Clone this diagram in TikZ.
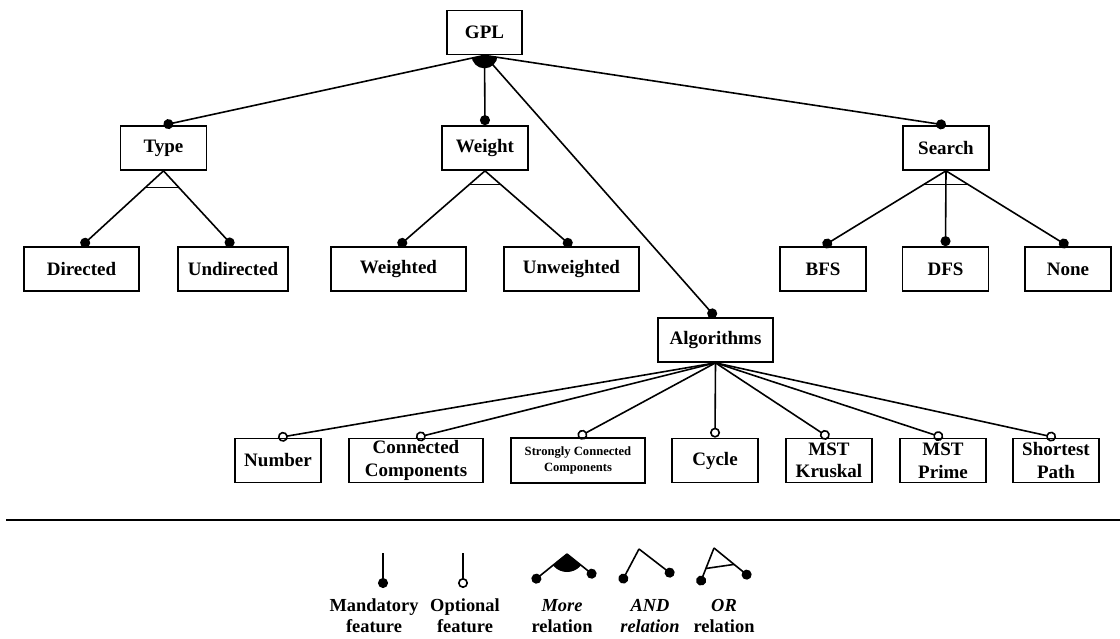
\documentclass[tikz,border=0pt]{standalone}
\usepackage{fontspec}
\setmainfont{Liberation Serif}
\usetikzlibrary{arrows.meta,calc}

\begin{document}
\begin{tikzpicture}[
            x=0.5pt, y=0.5pt,
            feat/.style={
                rectangle,
                draw=black,
                line width=0.85pt,
                minimum width=43pt,
                minimum height=22pt,
                inner sep=1pt,
                align=center,
                font=\fontsize{9.5}{11.3}\selectfont\bfseries
            },
            link/.style={line width=0.8pt},
            mand/.style={link, -{Circle[length=5pt]}},
            opt/.style={link, -{Circle[open,length=5pt]}},
            legend/.style={
                align=center,
                font=\fontsize{9.2}{10.5}\selectfont\bfseries
            }
        ]
        
        \useasboundingbox (0,0) rectangle (1120,-638);
        
        % Root
        \node[feat, minimum width=37.5pt] (gpl) at (484.5,-32.5) {GPL};
        
        % First level
        \node[feat] (type) at (163.5,-148) {Type};
        \node[feat] (weight) at (485,-148) {Weight};
        \node[feat] (search) at (946,-148) {Search};
        \node[feat, minimum width=57.5pt] (algorithms) at (715.5,-340) {Algorithms};
        
        % Second level
        \node[feat, minimum width=57.5pt] (directed) at (81.5,-269) {Directed};
        \node[feat, minimum width=55pt] (undirected) at (233,-269) {Undirected};
        \node[feat, minimum width=67.5pt] (weighted) at (398.5,-269) {Weighted};
        \node[feat, minimum width=67.5pt] (unweighted) at (571.5,-269) {Unweighted};
        \node[feat] (bfs) at (823,-269) {BFS};
        \node[feat] (dfs) at (945.5,-269) {DFS};
        \node[feat] (none) at (1068,-269) {None};
        
        % Algorithms row
        \node[feat] (number) at (278,-460.5) {Number};
        \node[feat, minimum width=67pt] (concomp) at (416,-460.5) {Connected\\Components};
        \node[feat, minimum width=67pt, minimum height=22.5pt,
              font=\fontsize{6.3}{7.6}\selectfont\bfseries] (strongcomp) at (578,-460.5) {Strongly Connected\\Components};
        \node[feat] (cycle) at (715,-460.5) {Cycle};
        \node[feat] (kruskal) at (829,-460.5) {MST\\Kruskal};
        \node[feat] (prime) at (943,-460.5) {MST\\Prime};
        \node[feat] (shortest) at (1056,-460.5) {Shortest\\Path};
        
        % Mandatory links
        \draw[mand] (gpl.south) -- (type.north);
        \draw[mand] (gpl.south) -- (weight.north);
        \draw[mand] (gpl.south) -- (search.north);
        \draw[mand] (gpl.south) -- (algorithms.north);
        \draw[mand] (type.south) -- (directed.north);
        \draw[mand] (type.south) -- (undirected.north);
        \draw[mand] (weight.south) -- (weighted.north);
        \draw[mand] (weight.south) -- (unweighted.north);
        \draw[mand] (search.south) -- (bfs.north);
        \draw[mand] (search.south) -- (dfs.north);
        \draw[mand] (search.south) -- (none.north);
        
        % More relation under GPL
        \begin{scope}
            \clip (gpl.south) -- (type.north) -- (search.north) -- cycle;
            \fill (gpl.south) circle (6.5pt);
        \end{scope}
        
        % Group bars
        \draw[link] ($(type.south)!0.22!(directed.north)$) -- ($(type.south)!0.22!(undirected.north)$);
        \draw[link] ($(weight.south)!0.18!(weighted.north)$) -- ($(weight.south)!0.18!(unweighted.north)$);
        \draw[link] ($(search.south)!0.18!(bfs.north)$) -- ($(search.south)!0.18!(none.north)$);
        
        % Optional links
        \draw[opt] (algorithms.south) -- (number.north);
        \draw[opt] (algorithms.south) -- (concomp.north);
        \draw[opt] (algorithms.south) -- (strongcomp.north);
        \draw[opt] (algorithms.south) -- (cycle.north);
        \draw[opt] (algorithms.south) -- (kruskal.north);
        \draw[opt] (algorithms.south) -- (prime.north);
        \draw[opt] (algorithms.south) -- (shortest.north);
        
        % Separator
        \draw[line width=0.9pt] (6,-520) -- (1120,-520);
        
        % Legend symbols
        \draw[mand] (383,-553) -- (383,-588);
        \draw[opt] (463,-553) -- (463,-588);
        
        \coordinate (moretop) at (567,-554);
        \coordinate (moreleft) at (532.5,-581.8);
        \coordinate (moreright) at (595.5,-576.8);
        \draw[mand] (moretop) -- (moreleft);
        \draw[mand] (moretop) -- (moreright);
        \begin{scope}
            \clip (moretop) -- (moreleft) -- (moreright) -- cycle;
            \fill (moretop) circle (9pt);
        \end{scope}
        
        \coordinate (andtop) at (639,-549);
        \draw[mand] (andtop) -- (621,-583);
        \draw[mand] (andtop) -- (673.6,-575.7);
        
        \coordinate (ortop) at (714,-548);
        \coordinate (orleft) at (699.3,-585.2);
        \coordinate (orright) at (750.5,-577.8);
        \draw[mand] (ortop) -- (orleft);
        \draw[mand] (ortop) -- (orright);
        \draw[link] ($(ortop)!0.55!(orleft)$) -- ($(ortop)!0.55!(orright)$);
        
        % Legend labels
        \node[legend] (lmand) at (374,-616) {Mandatory\\feature};
        \node[legend] (lopt) at (465,-616) {Optional\\feature};
        \node[legend] (lmore) at (562,-616) {\textit{More}\\relation};
        \node[legend] (land) at (650,-616) {\textit{AND}\\\textit{relation}};
        \node[legend] (lor) at (724,-616) {\textit{OR}\\relation};
        
        \end{tikzpicture}
\end{document}
